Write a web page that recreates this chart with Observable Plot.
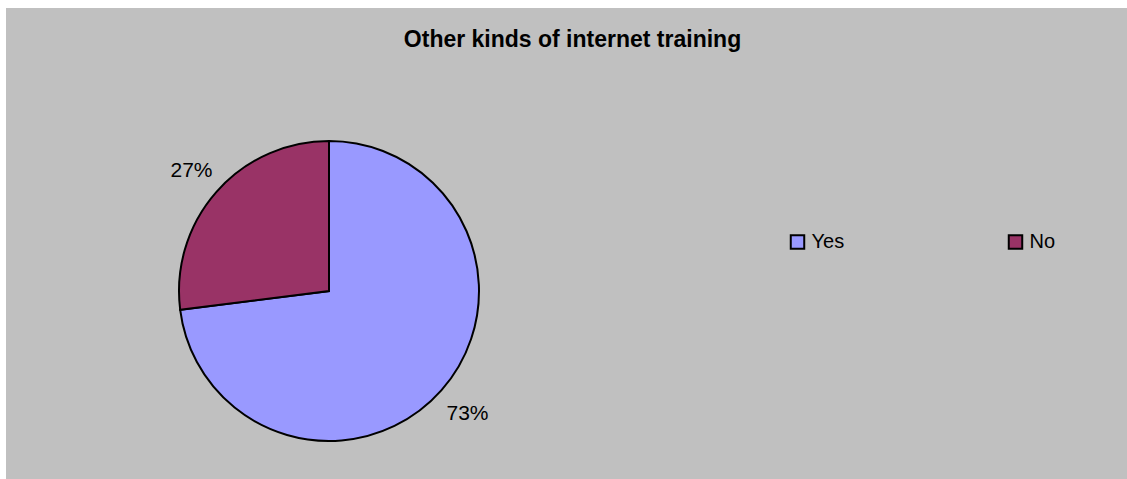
<!DOCTYPE html>
<html>
<head>
<meta charset="utf-8">
<script src="https://cdn.jsdelivr.net/npm/d3@7"></script>
<script src="https://cdn.jsdelivr.net/npm/@observablehq/plot@0.6"></script>
<style>
  html, body { margin: 0; padding: 0; background: #ffffff; overflow: hidden; }
  #wrap { position: absolute; left: 6px; top: 8px; width: 1121px; height: 471px; background: #C0C0C0; }
  #chart { position: absolute; left: -6px; top: -8px; }
  svg { font-family: "Liberation Sans", Arial, sans-serif; }
</style>
</head>
<body>
<div id="wrap"><div id="chart"></div></div>
<script>
const title = "Other kinds of internet training";
const categories = ["Yes", "No"];
const values = [73, 27];
const colors = ["#9999FF", "#993366"];
const labels = ["73%", "27%"];

const data = categories.map((c, i) => ({category: c, value: values[i], color: colors[i], label: labels[i]}));

const W = 1127, H = 479;
const cx = 329, cy = 291, R = 150, labelR = 184;

const arcs = d3.pie().sort(null).value(d => d.value)(data);
const labelArc = d3.arc().innerRadius(labelR).outerRadius(labelR);
const labelData = arcs.map(a => {
  const [lx, ly] = labelArc.centroid(a);
  return {x: cx + lx, y: cy + ly, label: a.data.label};
});

const legendData = data.map((d, i) => ({...d, lx: [797, 1015][i], ly: 241.5}));

function pieMark(index, scales) {
  const g = d3.create("svg:g")
    .attr("transform", `translate(${scales.x(cx)},${scales.y(cy)})`);
  const arc = d3.arc().innerRadius(0).outerRadius(scales.x(cx + R) - scales.x(cx));
  g.selectAll("path")
    .data(arcs)
    .join("path")
    .attr("d", arc)
    .attr("fill", d => d.data.color)
    .attr("stroke", "#000")
    .attr("stroke-width", 2)
    .attr("stroke-linejoin", "miter");
  return g.node();
}

const chart = Plot.plot({
  width: W,
  height: H,
  margin: 0,
  x: {domain: [0, W], range: [0, W], axis: null},
  y: {domain: [0, H], range: [0, H], axis: null},
  style: {background: "transparent", overflow: "visible"},
  marks: [
    Plot.text([title], {x: 572, y: 39, text: d => d, fontSize: 23, fontWeight: "bold", fill: "#000", textAnchor: "middle"}),
    pieMark,
    Plot.text(labelData, {x: "x", y: "y", text: "label", fontSize: 21, fill: "#000", textAnchor: "middle"}),
    Plot.dot(legendData, {x: "lx", y: "ly", symbol: "square", r: 7.6, fill: "color", stroke: "#000", strokeWidth: 2}),
    Plot.text(legendData, {x: d => d.lx + 14, y: "ly", text: "category", fontSize: 20, fill: "#000", textAnchor: "start"})
  ]
});
document.getElementById("chart").appendChild(chart);
</script>
</body>
</html>
